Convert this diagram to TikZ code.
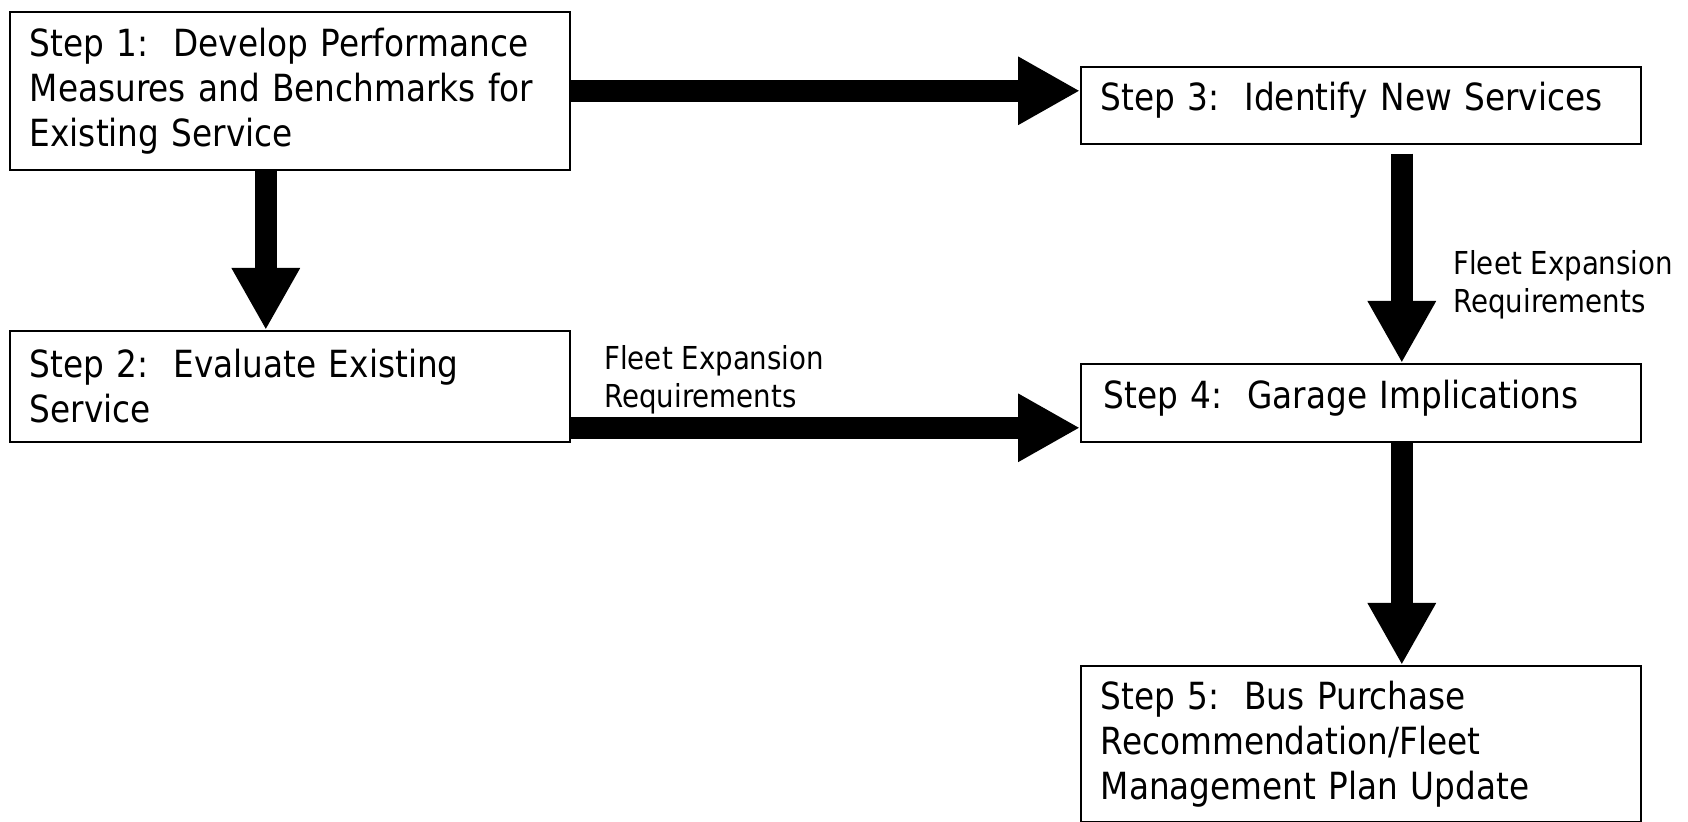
\documentclass[tikz,border=0pt]{standalone}
\usepackage{fontspec}
\setmainfont{DejaVu Sans}[FakeStretch=0.875]
\usetikzlibrary{arrows.meta}

\tikzset{
  stepbox/.style={draw,line width=0.8pt,anchor=north west,align=left,
    inner xsep=10pt,inner ysep=0pt,text width=260pt,
    font=\fontsize{18.7}{22.5}\selectfont},
  flowlabel/.style={anchor=west,align=left,inner sep=0pt,
    font=\fontsize{15.8}{19}\selectfont},
  bigarrow/.style={line width=11pt,-{Triangle[length=31pt,width=32pt]}}
}

\begin{document}
\begin{tikzpicture}[x=0.5pt,y=-0.5pt]
  \useasboundingbox (0,0) rectangle (1688,822);
  \node[stepbox,minimum height=79pt] (s1) at (9,11)
    {Step 1:\ \ Develop Performance\\Measures and Benchmarks for\\Existing Service};
  \node[stepbox,minimum height=55.5pt] (s2) at (9,330)
    {Step 2:\ \ Evaluate Existing\\Service};
  \node[stepbox,minimum height=38.5pt,text depth=9pt] (s3) at (1080,66)
    {Step 3:\ \ Identify New Services};
  \node[stepbox,minimum height=39pt,text depth=9pt] (s4) at (1080,363)
    {\hspace*{1.5pt}Step 4:\ \ Garage Implications};
  \node[stepbox,minimum height=78pt] (s5) at (1080,665)
    {Step 5:\ \ Bus Purchase\\Recommendation/Fleet\\Management Plan Update};
  \node[flowlabel] (l24) at (604,380) {Fleet Expansion\\Requirements};
  \node[flowlabel] (l34) at (1453,285) {Fleet Expansion\\Requirements};
  \coordinate (a12) at ([xshift=-12pt]s1.south);
  \coordinate (a24) at ([yshift=-20.75pt]s2.east);
  \coordinate (a34) at ([xshift=20.5pt,yshift=-4.5pt]s3.south);
  \coordinate (a45) at ([xshift=20.5pt]s4.south);
  \draw[bigarrow] (s1.east) -- (s1.east -| s3.west);
  \draw[bigarrow] (a12) -- (a12 |- s2.north);
  \draw[bigarrow] (a24) -- (a24 -| s4.west);
  \draw[bigarrow] (a34) -- (a34 |- s4.north);
  \draw[bigarrow] (a45) -- (a45 |- s5.north);
\end{tikzpicture}
\end{document}
